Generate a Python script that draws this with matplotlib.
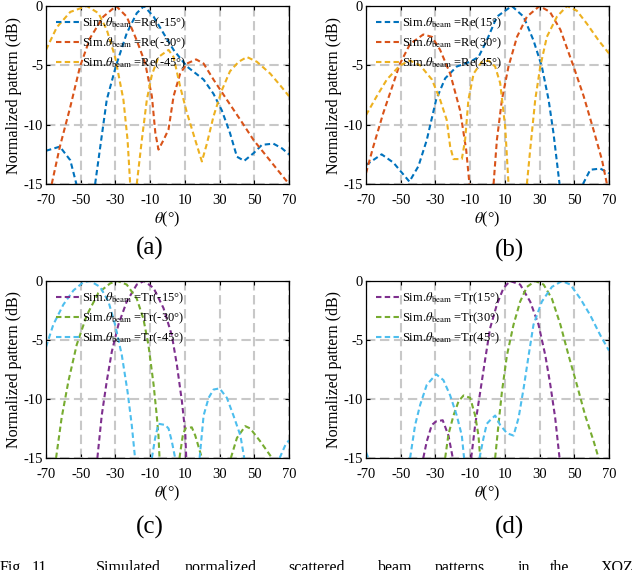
import numpy as np
import matplotlib
matplotlib.use("Agg")
import matplotlib.pyplot as plt

plt.rcParams['font.family'] = ['Liberation Serif', 'DejaVu Serif']
plt.rcParams['mathtext.fontset'] = 'stix'

nan = np.nan
# ---------------- data ----------------
xticks = [-70, -50, -30, -10, 10, 30, 50, 70]
yticks = [-15, -10, -5, 0]

# (a) reflection, negative steering
a_m15_x = [-70, -62, -56, -52.5, nan, -41.7, -35, -29.6, -23.5, -17.7, -13.5, -8, -2.3, 3.5, 11.2, 20.8, 26.5, 31.3, 36, 40, 44.2, 49.6, 54.4, 61, 66, 70]
a_m15_y = [-12.2, -11.85, -13, -15, nan, -15, -7.9, -5, -2.3, -0.6, 0, -0.9, -2.3, -3.7, -5.1, -6.2, -7.4, -8.8, -10.7, -12.7, -13.05, -12.4, -11.7, -11.6, -12, -12.5]
a_m30_x = [-66.7, -62, -56, -50.4, -44.6, -37, -29.6, -23.5, -17.7, -12.9, -9, -7, -5.2, -2.3, 0.6, 3.5, 7.3, 11.2, 16.5, 20.8, 26.5, 34.2, 42, 49.6, 57.3, 65, 70]
a_m30_y = [-15, -11.85, -8.5, -5.1, -2.7, -0.9, 0, -0.9, -2.9, -4.8, -7.6, -10.7, -12.1, -11.3, -10.4, -7.6, -5.7, -4.85, -4.5, -4.85, -6.2, -7.9, -9.6, -11.3, -12.7, -14.1, -15]
a_m45_x = [-70, -63.8, -56, -46.5, -39.8, -35, -30.2, -25.4, -23, -21.5, nan, -17.7, -14.8, -11.9, -9, -5.2, 0.6, 3.5, 7.3, 11.2, 16, 19.8, 22.7, 26.5, 31.3, 36, 41, 45.8, 51.5, 59.2, 65, 70]
a_m45_y = [-3.7, -1.8, -0.5, 0, -0.6, -2, -4.3, -7.9, -11.3, -15, nan, -15, -11.3, -7.9, -5.8, -4.3, -3.7, -4.3, -6.8, -9, -11.3, -13.1, -11.6, -9.3, -7.1, -5.5, -4.7, -4.3, -4.7, -5.7, -6.7, -7.6]

# (b) reflection, positive steering
b_15_x = [-70, -61, -54.2, -45, -39.8, -35, -29.6, -24.4, -17.7, -10, -5.2, -0.4, 5.4, 14, 20.8, 26.5, 31.3, 35.2, 38, 41.5, nan, 55, 59.2, 65, 70]
b_15_y = [-13.4, -12.5, -13.2, -14.8, -13.5, -11.3, -7.9, -6.1, -5.1, -4.7, -4.3, -2.9, -0.9, 0, -0.9, -2.9, -5.1, -7.9, -10.7, -15, nan, -15, -13.8, -13.7, -14.1]
b_30_x = [-70, -65.8, -60, -54.2, -50.4, -44.6, -37, -32, -27.3, -21.5, -15.8, -12.3, -10.4, nan, 3.5, 5.4, 8.3, 12.1, 17, 22.7, 30, 36, 42, 49.6, 55.4, 61, 66, 68.8]
b_30_y = [-14.1, -11.85, -9, -6.5, -4.85, -3.2, -2.4, -2.6, -3.7, -5.7, -8.8, -12.1, -15, nan, -15, -11.3, -7.9, -5.1, -2.6, -0.9, 0, -0.5, -2, -5.1, -7.6, -10.4, -13, -15]
b_45_x = [-70, -63.8, -58, -50.4, -44.6, -38.8, -32, -27.3, -23.5, -21.5, -19.6, -14.8, -12.9, -11, -8, -3.3, 0.6, 4.4, 7.3, 10.2, 12.1, nan, 22.7, 24.6, 27.5, 30.4, 34.2, 40, 45.8, 51.5, 57.3, 64, 70]
b_45_y = [-9.2, -7.6, -6.2, -5, -4.6, -5, -6.2, -7.9, -9.6, -11.85, -12.9, -12.9, -11.3, -7.9, -5.7, -4.7, -4.6, -5.1, -6.5, -10.2, -15, nan, -15, -12.1, -7.9, -5.1, -2.6, -0.9, 0, -0.4, -1.5, -2.9, -4]

# (c) transmission, negative steering
c_m15_x = [-40.4, -37.9, -35, -32.1, -28.3, -23.5, -17.7, -13.5, -8, -2.3, 2.5, 5.4, 8.3, 10.2, 10.8]
c_m15_y = [-15, -11.4, -8.5, -6, -3.7, -1.75, -0.3, 0, -0.6, -2.3, -4.6, -7.1, -10.2, -12.8, -15]
c_m30_x = [-64.2, -61, -57.1, -52.3, -46.5, -39.8, -33, -28.8, -23.5, -17.7, -13.9, -11, -8, -6.2, -5.2, -4.6, nan, 6.9, 8.8, 10.2, 14, 16, 19.8, nan, 36.5, 40, 44.8, 47.7, 53.5, 60.2]
c_m30_y = [-15, -11.6, -8.5, -5.4, -2.9, -1, -0.2, 0, -0.3, -1.5, -3.2, -5.4, -8.8, -11.4, -13.1, -15, nan, -15, -13.1, -12.5, -12.4, -13.1, -15, nan, -15, -13.3, -12.3, -12.5, -13.6, -15]
c_m45_x = [-70, -65.8, -60, -54.2, -48.5, -44.6, -38.8, -34, -30.2, -26.3, -23, -20.6, -18.7, nan, -9, -7.1, -5.2, -1.3, 0.6, 2.5, 4.4, nan, 18.5, 20.8, 23.7, 26.5, 30, 34.2, 38, 42, 44.2, nan, 64.6, 67.9, 70]
c_m45_y = [-5.6, -3.7, -2, -0.8, -0.1, 0, -0.5, -1.75, -3.7, -6.3, -9.4, -12.2, -15, nan, -15, -13.3, -12.1, -12.2, -12.5, -13.6, -15, nan, -15, -11.4, -9.9, -9.2, -9.1, -9.9, -11.4, -13.1, -15, nan, -15, -13.9, -13.5]

# (d) transmission, positive steering
d_15_x = [-37, -35, -32.1, -29.6, -25.8, -22.5, -20, nan, -9.4, -7.1, -4.2, -1.3, 1.5, 5.4, 9.2, 13, 18.8, 24.6, 29.4, 33.3, 36.2, 39, 41.5]
d_15_y = [-15, -13.6, -12.2, -11.9, -11.8, -13.1, -15, nan, -15, -12.2, -9.4, -6.6, -4, -2, -0.6, 0, -0.3, -1.75, -3.7, -6.3, -8.8, -11.6, -15]
d_30_x = [-24.4, -22.5, -19.6, -16.7, -13.8, -10, -7.1, -5.2, -4.2, nan, 4.4, 6.3, 8.3, 11.2, 15, 18.8, 22.7, 27.5, 32.3, 37.1, 42, 46.7, 51.5, 56.3, 61.2, 64]
d_30_y = [-15, -13, -11.4, -10.2, -9.7, -9.9, -11.4, -13.1, -15, nan, -15, -12.2, -9.4, -6.3, -3.7, -1.75, -0.5, 0, -0.3, -1.5, -3.7, -6.3, -8.8, -11.4, -13.6, -15]
d_45_x = [-70, -68.7, nan, -44.6, -41.7, -38.8, -35, -29.6, -25.4, -21.5, -17.7, -14.8, -13.5, nan, -4.6, -2.3, -0.4, 1.5, 4.4, 7.3, 11.2, 15, 17.9, 20.8, 23.7, 26.5, 31.3, 37.1, 42.9, 47.7, 53.5, 59.2, 65, 70]
d_45_y = [-14.5, -15, nan, -15, -12.2, -10.5, -8.8, -7.9, -8.4, -9.7, -11.4, -13.1, -15, nan, -15, -13.3, -12.1, -11.8, -11.4, -12.2, -12.9, -13.1, -11.6, -9.1, -6.3, -3.7, -1.75, -0.5, 0, -0.3, -1.5, -2.9, -4.6, -5.9]

labels_a = ['Re(-15°)', 'Re(-30°)', 'Re(-45°)']
labels_b = ['Re(15°)', 'Re(30°)', 'Re(45°)']
labels_c = ['Tr(-15°)', 'Tr(-30°)', 'Tr(-45°)']
labels_d = ['Tr(15°)', 'Tr(30°)', 'Tr(45°)']
panel_tags = ['(a)', '(b)', '(c)', '(d)']

col_re = ['#0072BD', '#D95319', '#EDB120']
col_tr = ['#7E2F8E', '#77AC30', '#4DBEEE']

# ---------------- figure ----------------
W, H = 640, 570
fig = plt.figure(figsize=(W / 100, H / 100), dpi=100)

def box(l, t, r, b):
    return [l / W, 1 - b / H, (r - l) / W, (b - t) / H]

pos = [box(46, 6, 289, 184), box(366, 6, 609, 184),
       box(46, 281, 289, 458), box(366, 281, 609, 458)]

panels = [
    ([(a_m15_x, a_m15_y), (a_m30_x, a_m30_y), (a_m45_x, a_m45_y)], labels_a, col_re),
    ([(b_15_x, b_15_y), (b_30_x, b_30_y), (b_45_x, b_45_y)], labels_b, col_re),
    ([(c_m15_x, c_m15_y), (c_m30_x, c_m30_y), (c_m45_x, c_m45_y)], labels_c, col_tr),
    ([(d_15_x, d_15_y), (d_30_x, d_30_y), (d_45_x, d_45_y)], labels_d, col_tr),
]

tag_pos = [(150, 248), (509, 250), (150, 527), (510, 527)]

for i, (series, labs, cols) in enumerate(panels):
    ax = fig.add_axes(pos[i])
    for (xs, ys), lab, c in zip(series, labs, cols):
        ax.plot(xs, ys, color=c, lw=1.5, linestyle=(0, (2.6, 1.6)),
                label=r'Sim.$\theta_{\rm beam}$ =' + lab)
    ax.set_xlim(-70, 70)
    ax.set_ylim(-15, 0)
    ax.set_xticks(xticks)
    ax.set_yticks(yticks)
    ax.set_xticklabels([str(v) for v in xticks])
    ax.set_yticklabels([str(v) for v in yticks])
    ax.grid(True, color='#c8c8c8', lw=1.5, linestyle=(0, (4.5, 2.2)))
    ax.set_axisbelow(True)
    ax.tick_params(direction='in', top=True, right=True, length=3, width=0.8,
                   labelsize=10.5)
    ax.tick_params(axis='x', pad=7)
    ax.tick_params(axis='y', pad=2)
    for s in ax.spines.values():
        s.set_linewidth(0.9)
    ax.set_xlabel(r'$\theta$(°)', fontsize=11.5, labelpad=2)
    ax.set_ylabel('Normalized pattern (dB)', fontsize=11.5, labelpad=1)
    ax.legend(loc='upper left', frameon=False, fontsize=9, handlelength=1.9,
              labelspacing=0.35, borderpad=0.25, borderaxespad=0.55,
              handletextpad=0.2)
    tx, ty = tag_pos[i]
    fig.text(tx / W, 1 - ty / H, panel_tags[i], fontsize=18,
             ha='center', va='center')

caption_words = ['Fig.', '11.', 'Simulated', 'normalized', 'scattered', 'beam',
                 'patterns', 'in', 'the', 'XOZ']
caption_x = [0, 32, 96, 185, 288, 378, 435, 518, 550, 601]
for w, xx in zip(caption_words, caption_x):
    fig.text(xx / W, 1 - 560 / H, w, fontsize=11.5, ha='left', va='top')

fig.savefig('out.png', dpi=100)
